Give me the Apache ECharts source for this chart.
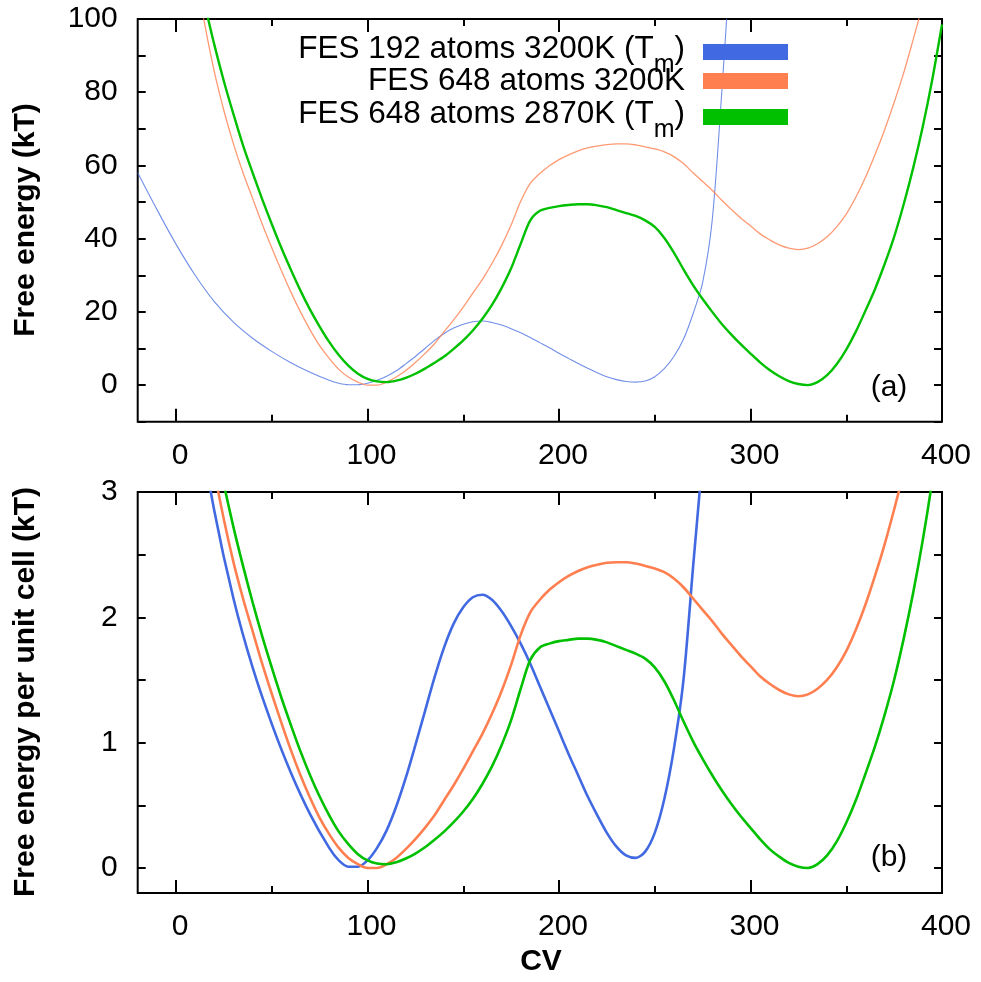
<!DOCTYPE html>
<html><head><meta charset="utf-8">
<script src="https://cdn.jsdelivr.net/npm/echarts@6/dist/echarts.min.js"></script>
<style>html,body{margin:0;padding:0;background:#fff}#c{width:981px;height:982px}</style>
</head><body><div id="c"></div>
<script>
// ---- data ----
const cvBlue = [-20,-10,0,10,20,30,40,50,60,70,80,85,90,95,100,105,110,115,120,125,130,135,140,145,150,155,160,165,170,175,180,185,190,195,200,205,210,215,220,225,230,235,240,245,250,255,260,265,270,275,280,285,290];
const blueTotal = [58,48,38.5,30,22.8,17.2,12.8,9.2,6.1,3.5,1.3,0.5,0.1,0.1,0.5,1.3,2.4,3.9,5.8,7.8,10,12.2,14.1,15.6,16.6,17.3,17.5,17.1,16.4,15.4,14.3,13,11.6,10.2,8.7,7.3,5.9,4.6,3.4,2.3,1.5,1.0,0.8,1.1,2.3,4.5,7.8,12.5,19.5,28,45,80,120];
const bluePerCell = [7.3,6.0,4.8,3.75,2.85,2.15,1.6,1.15,0.76,0.43,0.16,0.06,0.01,0.01,0.06,0.16,0.3,0.49,0.72,0.98,1.25,1.52,1.76,1.95,2.08,2.16,2.18,2.14,2.05,1.93,1.79,1.63,1.45,1.27,1.09,0.91,0.74,0.57,0.42,0.28,0.17,0.1,0.08,0.13,0.28,0.55,0.95,1.5,2.4,3.3,4.5,6.0,8.0];

const cvOrange = [10,15,20,25,30,35,40,45,50,55,60,65,70,75,80,85,90,95,100,105,110,115,120,125,130,135,140,145,150,155,160,165,170,175,180,185,190,195,200,205,210,215,220,225,230,235,240,245,250,255,260,265,270,275,280,285,290,295,300,305,310,315,320,325,330,335,340,345,350,355,360,365,370,375,380,385,390];
const orangeTotal = [113,98.5,85.6,75,65.9,58,51,44,37.5,31.3,25.4,20,15.1,10.8,7.3,4.3,2.2,0.8,0,0,0.8,2.2,4.0,6.2,8.6,11.3,14.6,17.8,21.3,25.1,28.9,33.2,38.1,43.7,50.2,55.1,57.8,59.9,61.6,62.9,64,64.8,65.3,65.7,65.9,65.9,65.6,65.1,64.5,63.7,62.4,60.5,58,55.6,53.2,50.5,48,45.6,43.5,41.3,39.7,38.3,37.4,37.0,37.4,38.6,40.5,43.2,46.7,51.3,56.7,62.9,69.7,77.2,85.3,94.5,104];
const orangePerCell = [4.2,3.65,3.17,2.78,2.44,2.15,1.89,1.63,1.39,1.16,0.94,0.74,0.56,0.4,0.27,0.16,0.08,0.03,0.0,0.0,0.03,0.08,0.15,0.23,0.32,0.42,0.54,0.66,0.79,0.93,1.07,1.23,1.41,1.62,1.86,2.04,2.14,2.22,2.28,2.33,2.37,2.4,2.42,2.435,2.44,2.44,2.43,2.41,2.39,2.36,2.31,2.24,2.15,2.06,1.97,1.87,1.78,1.69,1.61,1.53,1.47,1.42,1.385,1.37,1.385,1.43,1.5,1.6,1.73,1.9,2.1,2.33,2.58,2.86,3.16,3.5,3.85];

const cvGreen = [15,20,25,30,35,40,45,50,55,60,65,70,75,80,85,90,95,100,105,110,115,120,125,130,135,140,145,150,155,160,165,170,175,180,185,190,195,200,205,210,215,220,225,230,235,240,245,250,255,260,265,270,275,280,285,290,295,300,305,310,315,320,325,330,335,340,345,350,355,360,365,370,375,380,385,390,395,400];
const greenTotal = [104,93,83,74,65.5,58,50.8,44,37.5,31.5,25.8,20.6,16,11.8,8.2,5.3,3.1,1.7,1.0,0.8,1.2,2.0,3.1,4.5,6.1,7.8,9.9,12.2,14.9,18.1,21.9,26.5,31.9,38.6,45,47.6,48.4,48.9,49.2,49.4,49.4,49.1,48.6,47.8,47,46.2,45,43.2,40.2,36.2,31.6,27.3,23.5,20,16.7,13.8,11.1,8.6,6.2,4.1,2.4,1.1,0.3,0,0.8,2.7,5.7,9.7,14.6,20.3,26.2,33,40.5,49.4,59.4,70.7,83.7,98.5];
const greenPerCell = [3.85,3.42,3.06,2.72,2.41,2.12,1.85,1.6,1.36,1.14,0.93,0.74,0.57,0.42,0.29,0.19,0.11,0.06,0.035,0.03,0.045,0.075,0.115,0.165,0.225,0.29,0.365,0.45,0.55,0.67,0.81,0.98,1.18,1.43,1.66,1.76,1.79,1.81,1.82,1.83,1.83,1.82,1.8,1.77,1.74,1.71,1.67,1.6,1.49,1.34,1.17,1.01,0.87,0.74,0.62,0.51,0.41,0.32,0.23,0.15,0.09,0.04,0.01,0.0,0.03,0.1,0.21,0.36,0.54,0.75,0.97,1.22,1.5,1.83,2.2,2.62,3.1,3.65];

const seriesNames = ['FES 192 atoms 3200K (Tm)', 'FES 648 atoms 3200K', 'FES 648 atoms 2870K (Tm)'];
const xMajorTicks = [0,100,200,300,400];
const xMinorTicks = [50,150,250,350];
const topYTicks = [-10,0,10,20,30,40,50,60,70,80,90,100];
const topYLabels = [0,20,40,60,80,100];
const botYTicks = [0,0.5,1,1.5,2,2.5,3];
const botYLabels = [0,1,2,3];

// ---- chart ----
const FONT = 'Liberation Sans';
const COLORS = ['#4169e1', '#ff7f50', '#00c000'];
const chart = echarts.init(document.getElementById('c'), null, {renderer: 'canvas'});
const tickStyle = {color: '#000', width: 2};
const noLine = {show: false, onZero: false};

function xAxes(gridIndex) {
  const base = {type: 'value', gridIndex, min: -20, max: 400, splitLine: {show: false}, axisLine: noLine};
  return [
    Object.assign({}, base, {position: 'bottom',
      axisTick: {inside: true, length: 13, lineStyle: tickStyle, customValues: xMajorTicks},
      axisLabel: {customValues: xMajorTicks, fontSize: 30, fontFamily: FONT, color: '#000', margin: 19, padding: [0, 0, 0, 8]}}),
    Object.assign({}, base, {position: 'bottom',
      axisTick: {inside: true, length: 7, lineStyle: tickStyle, customValues: xMinorTicks}, axisLabel: {show: false}}),
    Object.assign({}, base, {position: 'top',
      axisTick: {inside: true, length: 13, lineStyle: tickStyle, customValues: xMajorTicks}, axisLabel: {show: false}}),
    Object.assign({}, base, {position: 'top',
      axisTick: {inside: true, length: 7, lineStyle: tickStyle, customValues: xMinorTicks}, axisLabel: {show: false}})
  ];
}
function yAxes(gridIndex, min, max, ticks, labels) {
  const base = {type: 'value', gridIndex, min, max, splitLine: {show: false}, axisLine: noLine};
  return [
    Object.assign({}, base, {position: 'left',
      axisTick: {inside: true, length: 8, lineStyle: tickStyle, customValues: ticks},
      axisLabel: {customValues: labels, fontSize: 30, fontFamily: FONT, color: '#000', margin: 20}}),
    Object.assign({}, base, {position: 'right',
      axisTick: {inside: true, length: 8, lineStyle: tickStyle, customValues: ticks}, axisLabel: {show: false}})
  ];
}
function line(name, xs, ys, ci, width, gi, opacity) {
  return {
    type: 'line', name, xAxisIndex: gi * 4, yAxisIndex: gi * 2,
    data: xs.map((x, i) => [x, ys[i]]),
    showSymbol: false, symbol: 'none', smooth: 0.3, clip: true, animation: false,
    lineStyle: {color: COLORS[ci], width, opacity}, itemStyle: {color: COLORS[ci]}, z: 3 + ci
  };
}
// legend rows: centre y of each row
const legendRows = [49, 81, 114];
const SUB_PAD = 20;
const legends = seriesNames.map((n, i) => {
  const hasSub = n.endsWith('(Tm)');
  return {
    data: [n], orient: 'vertical', align: 'right', right: 193, top: legendRows[i] - 16,
    padding: 0, itemWidth: 85, itemHeight: 16, icon: 'rect', selectedMode: false,
    itemStyle: {color: COLORS[i]},
    formatter: (name) => name.endsWith('(Tm)') ? '{n|' + name.slice(0, -2) + '}{s|m}{n|)}' : '{n|' + name + '}',
    textStyle: {color: '#000', fontFamily: FONT, fontSize: 31.5, padding: hasSub ? [0, 13, 6, 0] : [0, 13, 0, 0],
      rich: {n: {fontSize: 31.5, fontFamily: FONT, lineHeight: 32, color: '#000', verticalAlign: 'middle'},
             s: {fontSize: 25, fontFamily: FONT, lineHeight: 25, color: '#000', verticalAlign: 'top', padding: [SUB_PAD, 0, 0, 0]}}}
  };
});

const option = {
  backgroundColor: '#fff',
  animation: false,
  grid: [
    {left: 137.7, top: 19, width: 804.3, height: 402.7, show: true, borderColor: '#000', borderWidth: 2},
    {left: 137.7, top: 492, width: 804.3, height: 401, show: true, borderColor: '#000', borderWidth: 2}
  ],
  xAxis: [...xAxes(0), ...xAxes(1)],
  yAxis: [...yAxes(0, -10, 100, topYTicks, topYLabels), ...yAxes(1, -0.2, 3, botYTicks, botYLabels)],
  legend: legends,
  series: [
    line(seriesNames[0], cvBlue, blueTotal, 0, 1.1, 0, 0.75),
    line(seriesNames[1], cvOrange, orangeTotal, 1, 1.3, 0, 0.8),
    line(seriesNames[2], cvGreen, greenTotal, 2, 2.4, 0, 1),
    line(seriesNames[0], cvBlue, bluePerCell, 0, 2.6, 1, 1),
    line(seriesNames[1], cvOrange, orangePerCell, 1, 2.6, 1, 1),
    line(seriesNames[2], cvGreen, greenPerCell, 2, 2.6, 1, 1)
  ],
  graphic: [
    {type: 'text', x: 26, y: 220, rotation: Math.PI / 2, style: {text: 'Free energy (kT)', font: 'bold 30px "Liberation Sans"', fill: '#000', align: 'center', verticalAlign: 'middle'}},
    {type: 'text', x: 26, y: 692, rotation: Math.PI / 2, style: {text: 'Free energy per unit cell (kT)', font: 'bold 30px "Liberation Sans"', fill: '#000', align: 'center', verticalAlign: 'middle'}},
    {type: 'text', x: 541, y: 962, style: {text: 'CV', font: 'bold 30px "Liberation Sans"', fill: '#000', align: 'center', verticalAlign: 'middle'}},
    {type: 'text', x: 889, y: 388, style: {text: '(a)', font: '30px "Liberation Sans"', fill: '#000', align: 'center', verticalAlign: 'middle'}},
    {type: 'text', x: 889, y: 858, style: {text: '(b)', font: '30px "Liberation Sans"', fill: '#000', align: 'center', verticalAlign: 'middle'}}
  ]
};
chart.setOption(option);
</script>
</body></html>
